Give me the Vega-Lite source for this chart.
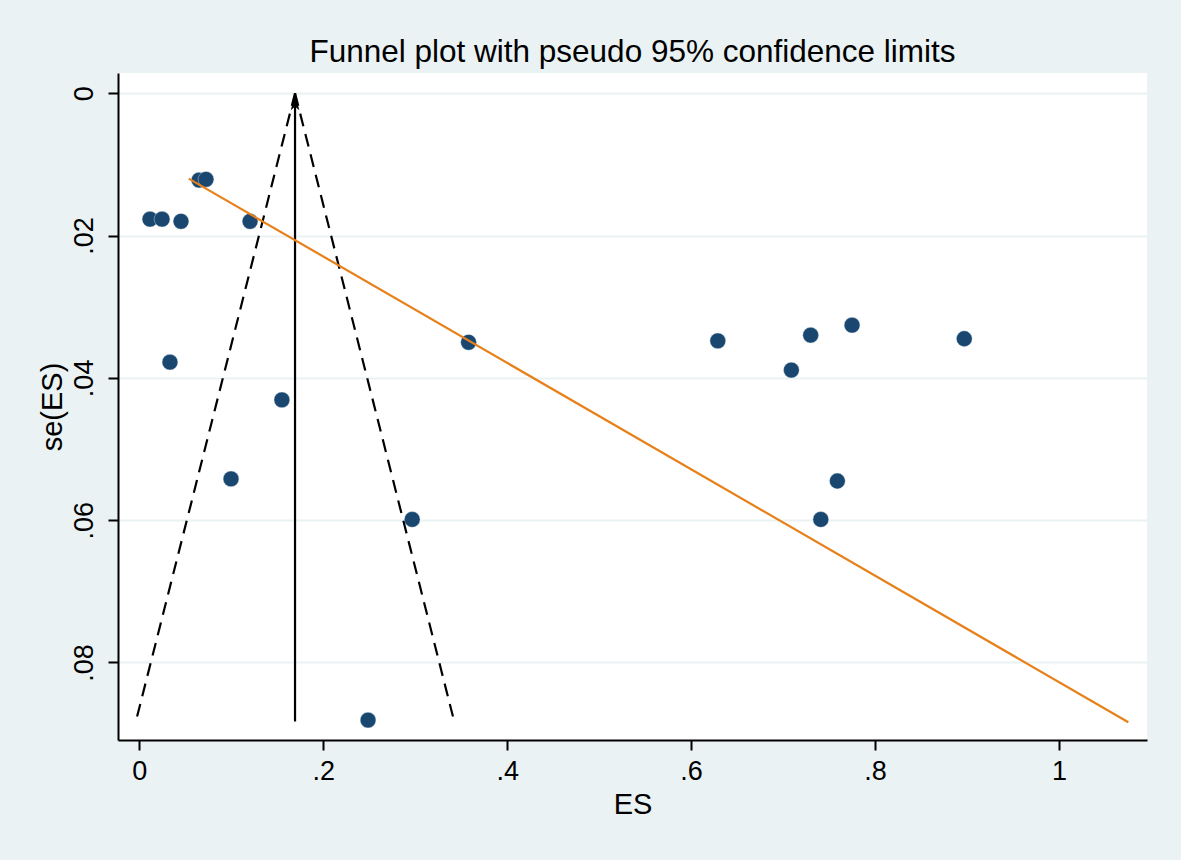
{
  "$schema": "https://vega.github.io/schema/vega-lite/v6.json",
  "width": 1029,
  "height": 667,
  "autosize": "none",
  "padding": {"left": 118, "top": 73, "right": 34, "bottom": 120},
  "background": "#EAF2F3",
  "title": {
    "text": "Funnel plot with pseudo 95% confidence limits",
    "font": "Liberation Sans",
    "fontSize": 31.5,
    "fontWeight": "normal",
    "color": "#000000",
    "anchor": "middle",
    "baseline": "alphabetic",
    "offset": -20
  },
  "config": {
    "view": {"fill": "#FFFFFF", "stroke": null},
    "axis": {
      "labelFont": "Liberation Sans",
      "titleFont": "Liberation Sans",
      "labelFontSize": 27,
      "titleFontSize": 29,
      "titleFontWeight": "normal",
      "labelColor": "#000000",
      "titleColor": "#000000",
      "domainColor": "#000000",
      "domainWidth": 2,
      "tickColor": "#000000",
      "tickWidth": 2,
      "tickSize": 10
    }
  },
  "datasets": {
    "studies": [
      {"ES": 0.0116, "se": 0.0177},
      {"ES": 0.0247, "se": 0.0177},
      {"ES": 0.0453, "se": 0.0180},
      {"ES": 0.0650, "se": 0.0122},
      {"ES": 0.0725, "se": 0.0121},
      {"ES": 0.1204, "se": 0.0180},
      {"ES": 0.0333, "se": 0.0378},
      {"ES": 0.0997, "se": 0.0542},
      {"ES": 0.1550, "se": 0.0431},
      {"ES": 0.2967, "se": 0.0599},
      {"ES": 0.2487, "se": 0.0881},
      {"ES": 0.3580, "se": 0.0350},
      {"ES": 0.6290, "se": 0.0348},
      {"ES": 0.7300, "se": 0.0340},
      {"ES": 0.7750, "se": 0.0326},
      {"ES": 0.8970, "se": 0.0345},
      {"ES": 0.7090, "se": 0.0389},
      {"ES": 0.7590, "se": 0.0545},
      {"ES": 0.7410, "se": 0.0599}
    ],
    "pooled": [
      {"ES": 0.1693, "se": 0.0, "se2": 0.0883}
    ],
    "limits": [
      {"ES": 0.1693, "se": 0.0, "ES2": -0.0038, "se2": 0.0883},
      {"ES": 0.1693, "se": 0.0, "ES2": 0.3424, "se2": 0.0883}
    ],
    "egger": [
      {"ES": 0.0537, "se": 0.0120, "ES2": 1.0754, "se2": 0.0884}
    ]
  },
  "layer": [
    {
      "data": {"name": "studies"},
      "mark": {"type": "point", "filled": true, "size": 250, "color": "#1A476F", "opacity": 1, "stroke": "#DDE6EE", "strokeWidth": 0.6, "strokeOpacity": 0.7},
      "encoding": {
        "x": {
          "field": "ES", "type": "quantitative", "title": "ES",
          "scale": {"domain": [-0.0232, 1.0957], "nice": false, "zero": false},
          "axis": {
            "values": [0, 0.2, 0.4, 0.6, 0.8, 1],
            "labelExpr": "replace(format(datum.value, '~g'), '0.', '.')",
            "grid": false,
            "labelPadding": 8,
            "titlePadding": 6,
            "labelFlush": false
          }
        },
        "y": {
          "field": "se", "type": "quantitative", "title": "se(ES)",
          "scale": {"domain": [-0.00285, 0.0909], "nice": false, "zero": false, "reverse": true},
          "axis": {
            "values": [0, 0.02, 0.04, 0.06, 0.08],
            "labelExpr": "replace(format(datum.value, '~g'), '0.', '.')",
            "labelAngle": -90,
            "labelAlign": "center",
            "labelBaseline": "alphabetic",
            "labelPadding": 16,
            "labelFlush": false,
            "grid": true,
            "gridColor": "#EAF2F3",
            "gridWidth": 2,
            "titlePadding": 3
          }
        }
      }
    },
    {
      "data": {"name": "pooled"},
      "mark": {"type": "rule", "color": "#000000", "strokeWidth": 2.2},
      "encoding": {
        "x": {"field": "ES", "type": "quantitative", "title": "ES"},
        "y": {"field": "se", "type": "quantitative", "title": "se(ES)"},
        "y2": {"field": "se2"}
      }
    },
    {
      "data": {"name": "pooled"},
      "mark": {"type": "point", "filled": true, "color": "#000000", "opacity": 1, "size": 289, "shape": "M0,0 L0.5,2 L0,1.55 L-0.5,2 Z"},
      "encoding": {
        "x": {"field": "ES", "type": "quantitative", "title": "ES"},
        "y": {"field": "se", "type": "quantitative", "title": "se(ES)"}
      }
    },
    {
      "data": {"name": "limits"},
      "mark": {"type": "rule", "color": "#000000", "strokeWidth": 2.2, "strokeDash": [13, 8]},
      "encoding": {
        "x": {"field": "ES", "type": "quantitative", "title": "ES"},
        "y": {"field": "se", "type": "quantitative", "title": "se(ES)"},
        "x2": {"field": "ES2"},
        "y2": {"field": "se2"}
      }
    },
    {
      "data": {"name": "egger"},
      "mark": {"type": "rule", "color": "#E8801A", "strokeWidth": 2.2},
      "encoding": {
        "x": {"field": "ES", "type": "quantitative", "title": "ES"},
        "y": {"field": "se", "type": "quantitative", "title": "se(ES)"},
        "x2": {"field": "ES2"},
        "y2": {"field": "se2"}
      }
    }
  ]
}
